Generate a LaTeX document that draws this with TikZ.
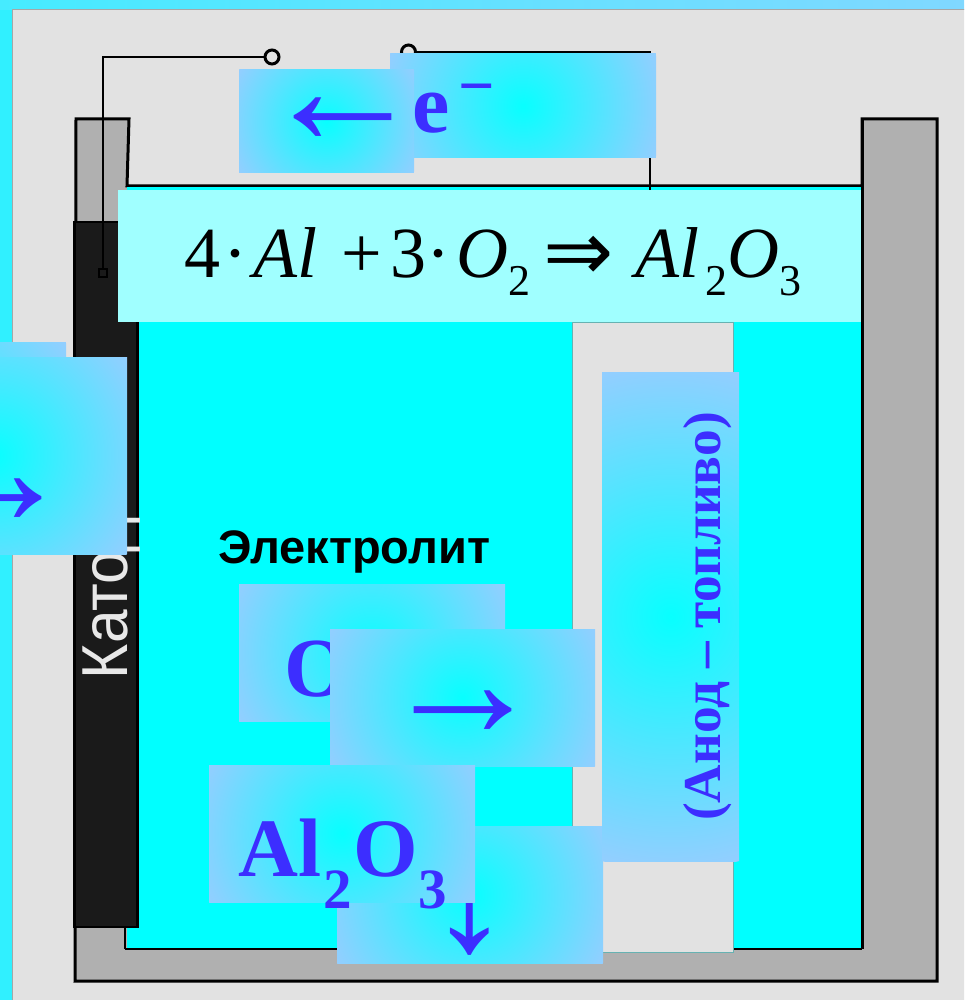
\documentclass[tikz,border=0pt]{standalone}
\usepackage{fontspec}
\setmainfont{Liberation Serif}
\setsansfont{Liberation Sans}
\newfontfamily\symfont{DejaVu Sans}
\definecolor{panel}{HTML}{E2E2E2}
\definecolor{wall}{HTML}{B0B0B0}
\definecolor{ink}{HTML}{3C2EFF}
\definecolor{liq}{HTML}{00FFFF}
\definecolor{formulabg}{HTML}{A0FFFF}
\definecolor{cathodeblack}{HTML}{1A1A1A}
\pgfdeclareradialshading{boxglow}{\pgfpoint{0bp}{0bp}}{rgb(0bp)=(0.03,1,1); rgb(26bp)=(0.6,0.8,1); rgb(100bp)=(0.6,0.8,1)}
\newcommand{\glowbox}[4]{%
  \begin{scope}
    \clip (#1,#2) rectangle (#3,#4);
    \pgfmathsetmacro{\glowr}{0.5*veclen(#3-#1,#4-#2)}
    \shade[shading=boxglow] ({(#1+#3)/2},{(#2+#4)/2}) circle (\glowr pt);
  \end{scope}}
\newcommand{\fs}[1]{\fontsize{#1}{#1}\selectfont}
\newcommand{\lowered}[1]{\raisebox{-18pt}{\fs{44}#1}}
\tikzset{
  vessel/.style={fill=wall,draw=black,line width=3pt,line join=miter},
  wire/.style={draw=black,line width=2.6pt},
  terminal/.style={circle,draw=black,line width=3pt,fill=none,inner sep=0pt,minimum size=14pt},
  blue text/.style={text=ink,inner sep=0pt,font=\bfseries},
  plain/.style={inner sep=0pt,outer sep=0pt}
}
\begin{document}
\begin{tikzpicture}[x=1pt,y=-1pt]
\useasboundingbox (0,0) rectangle (964,1000);
\clip (0,0) rectangle (964,1000);
% page background
\fill[color={rgb,255:red,48;green,240;blue,255}] (0,0) rectangle (12,1000);
\shade[left color={rgb,255:red,70;green,235;blue,255},right color={rgb,255:red,128;green,216;blue,255}] (0,0) rectangle (964,10);
\fill[panel,draw=gray!70,line width=0.8pt] (12.5,9.5) rectangle (970,1006);
% vessel
\path[vessel] (76,119) -- (129,119) -- (127,186) -- (862,186) -- (862,119) -- (937,119) -- (937,981) -- (75,981) -- cycle;
\fill[liq] (127,186) rectangle (862,949);
\draw[black,line width=2.6pt] (127,186) -- (862,186);
\draw[black,line width=2.6pt] (125,949) -- (862,949);
\draw[black,line width=2.6pt] (125,222) -- (125,949);
\draw[black,line width=3pt] (862,119) -- (862,949);
% anode slot
\fill[panel,draw=teal!60,line width=0.7pt] (572.5,322) rectangle (733.5,952);
% cathode
\fill[cathodeblack,draw=black,line width=2.6pt] (74.5,222) rectangle (137.5,927);
\node[plain,rotate=90,xscale=0.93,anchor=base west,text={rgb,255:red,232;green,232;blue,232},font=\sffamily\fs{65}] (cathodelabel) at (127,679) {Катод};
% wires
\node[terminal] (tl) at (272,57) {};
\node[terminal] (tr) at (408.5,52) {};
\node[draw=black,line width=2pt,inner sep=0pt,minimum size=8pt] (sq) at (103,273) {};
\coordinate (cornerl) at (103,57);
\coordinate (cornerr) at (650,52);
\coordinate (anodetop) at (650,190);
\draw[wire] (tl) -- (cornerl) -- (sq);
\draw[wire] (tr) -- (cornerr) -- (anodetop);
% electron boxes
\glowbox{390}{54}{656}{158}
\node[blue text,anchor=base west,font=\bfseries\fs{84}] (e) at (412,133) {e};
\node[blue text,anchor=base west,font=\bfseries\fs{64}] (minus) at (458,108) {−};
\glowbox{239}{70}{414}{173}
\node[blue text,anchor=center,font=\normalfont\fs{165}] (arrowl) at (343,121) {←};
% formula
\fill[formulabg] (118,190) rectangle (861,322);
\node[plain,anchor=base west,font=\fs{72}] (formula) at (184,277)
 {4\hspace{4pt}·\hspace{6pt}\textit{Al}\hspace{24pt}+\hspace{8pt}3\hspace{0pt}·\hspace{6pt}\textit{O}\lowered{2}};
\node[plain,anchor=base west,font=\symfont\fs{84}] (implies) at (543,280) {⇒};
\node[plain,anchor=base west,font=\fs{72}] (product) at (635,277)
 {\textit{Al}\hspace{7pt}\lowered{2}\hspace{0pt}\textit{O}\lowered{3}};
% electrolyte
\node[plain,anchor=base west,font=\sffamily\bfseries\fs{47}] (electrolyte) at (218,563) {Электролит};
% oxygen
\glowbox{239}{584}{505}{721}
\node[blue text,anchor=base west,font=\bfseries\fs{84}] (o) at (284,696) {O};
\glowbox{330}{629}{595}{766}
\node[blue text,anchor=center,font=\normalfont\fs{165}] (arrowr) at (462.5,714) {→};
% down box
\glowbox{337}{826}{603}{963}
\node[blue text,anchor=center,font=\normalfont\fs{165}] (arrowd) at (470,907) {↓};
% Al2O3
\glowbox{209}{765}{475}{902}
\node[blue text,anchor=base west,font=\bfseries\fs{83}] (al) at (238,876) {Al};
\node[blue text,anchor=base west,font=\bfseries\fs{57}] (sub2) at (323,908) {2};
\node[blue text,anchor=base west,font=\bfseries\fs{83}] (oo) at (353,876) {O};
\node[blue text,anchor=base west,font=\bfseries\fs{57}] (sub3) at (418,908) {3};
% anode
\glowbox{602}{372}{739}{861}
\node[blue text,rotate=90,anchor=base west,font=\bfseries\fs{53.3}] (anode) at (720,821) {(Анод – топливо)};
% left boxes
\glowbox{-200}{342}{66}{540}
\glowbox{-139}{357}{127}{554}
\node[blue text,anchor=center,font=\normalfont\fs{165}] (arrowin) at (-6.5,502) {→};
\end{tikzpicture}
\end{document}
